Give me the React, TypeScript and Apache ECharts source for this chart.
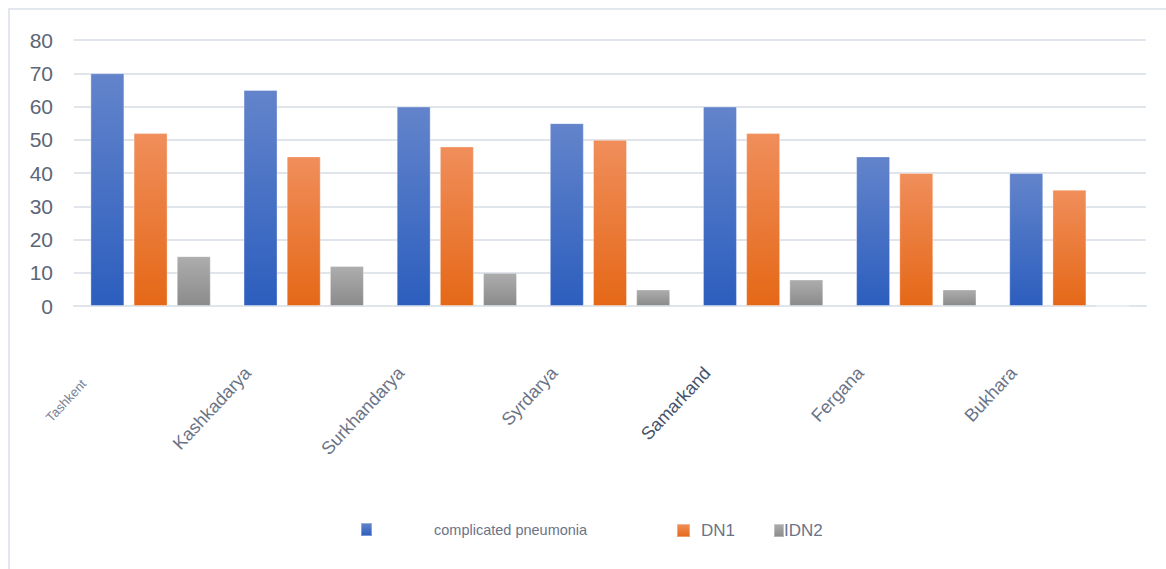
import React, { useEffect, useRef } from "react";
import * as echarts from "echarts";

const categories = ["Tashkent", "Kashkadarya", "Surkhandarya", "Syrdarya", "Samarkand", "Fergana", "Bukhara"];
const seriesNames = ["complicated pneumonia", "DN1", "IDN2"];
const pneumonia = [70, 65, 60, 55, 60, 45, 40];
const dn1 = [52, 45, 48, 50, 52, 40, 35];
const idn2 = [15, 12, 10, 5, 8, 5, 0];
const yTicks = [0, 10, 20, 30, 40, 50, 60, 70, 80];

const grad = (top: string, bottom: string) =>
  new echarts.graphic.LinearGradient(0, 0, 0, 1, [
    { offset: 0, color: top },
    { offset: 1, color: bottom },
  ]);

export default function App() {
  const ref = useRef<HTMLDivElement>(null);
  useEffect(() => {
    if (!ref.current) return;
    const chart = echarts.init(ref.current, null, { renderer: "svg" });
    const font = "Liberation Sans, Arial, sans-serif";
    const labelColor = "#6b7487";
    const gridColor = "#e0e4eb";
    chart.setOption({
      animation: false,
      backgroundColor: "#ffffff",
      graphic: [
        {
          type: "polyline",
          shape: { points: [[9, 569], [9, 9], [1166, 9]] },
          style: { stroke: "#e3e7ee", lineWidth: 2, fill: "none" },
        },
      ],
      grid: { left: 74, right: 20, top: 40, bottom: 263, containLabel: false },
      xAxis: {
        type: "category",
        data: categories,
        axisLine: { show: true, lineStyle: { color: gridColor, width: 2 } },
        axisTick: { show: false },
        axisLabel: {
          rotate: 47,
          margin: 4,
          interval: 0,
          padding: [0, 82, 0, 0],
          fontFamily: font,
          fontSize: 18,
          color: labelColor,
          formatter: (v: string) =>
            v === "Tashkent" ? "{s|" + v + "}" : v === "Samarkand" ? "{d|" + v + "}" : v,
          rich: {
            s: { fontSize: 13, color: "#7a8396", fontFamily: font, padding: [0, 16, 0, 0] },
            d: { fontSize: 18, color: "#45526a", fontFamily: font },
          },
        },
      },
      yAxis: {
        type: "value",
        min: 0,
        max: 80,
        interval: 10,
        axisLine: { show: false },
        axisTick: { show: false },
        splitLine: { lineStyle: { color: gridColor, width: 2 } },
        axisLabel: {
          margin: 21,
          fontFamily: font,
          fontSize: 21,
          color: "#5d6677",
          formatter: (v: number) => (yTicks.includes(v) ? String(v) : ""),
        },
      },
      legend: [
        {
          data: [seriesNames[0]],
          left: 360,
          top: 522,
          padding: 0,
          itemWidth: 11,
          itemHeight: 13,
          icon: "rect",
          textStyle: { fontFamily: font, fontSize: 14.5, color: labelColor, padding: [0, 0, 0, 57] },
        },
        {
          data: [seriesNames[1]],
          left: 676,
          top: 522,
          padding: 0,
          itemWidth: 13,
          itemHeight: 13,
          icon: "rect",
          textStyle: { fontFamily: font, fontSize: 17, color: labelColor, padding: [0, 0, 0, 6] },
        },
        {
          data: [seriesNames[2]],
          left: 773,
          top: 522,
          padding: 0,
          itemWidth: 10,
          itemHeight: 13,
          icon: "rect",
          textStyle: { fontFamily: font, fontSize: 17, color: labelColor, padding: [0, 0, 0, -5] },
        },
      ],
      series: [
        {
          name: seriesNames[0],
          type: "bar",
          data: pneumonia,
          barWidth: 34,
          barGap: "27%",
          itemStyle: { color: grad("#6384cb", "#2c5ebe"), borderColor: "rgba(255,255,255,0.35)", borderWidth: 1 },
        },
        {
          name: seriesNames[1],
          type: "bar",
          data: dn1,
          barWidth: 34,
          barGap: "27%",
          itemStyle: { color: grad("#f08e5b", "#e56817"), borderColor: "rgba(255,255,255,0.35)", borderWidth: 1 },
        },
        {
          name: seriesNames[2],
          type: "bar",
          data: idn2,
          barWidth: 34,
          barGap: "27%",
          itemStyle: { color: grad("#adadad", "#8b8b8b"), borderColor: "rgba(255,255,255,0.35)", borderWidth: 1 },
        },
      ],
    });
    return () => chart.dispose();
  }, []);
  return (
    <div
      ref={ref}
      style={{ position: "fixed", left: 0, top: 0, width: 1166, height: 569 }}
    />
  );
}
